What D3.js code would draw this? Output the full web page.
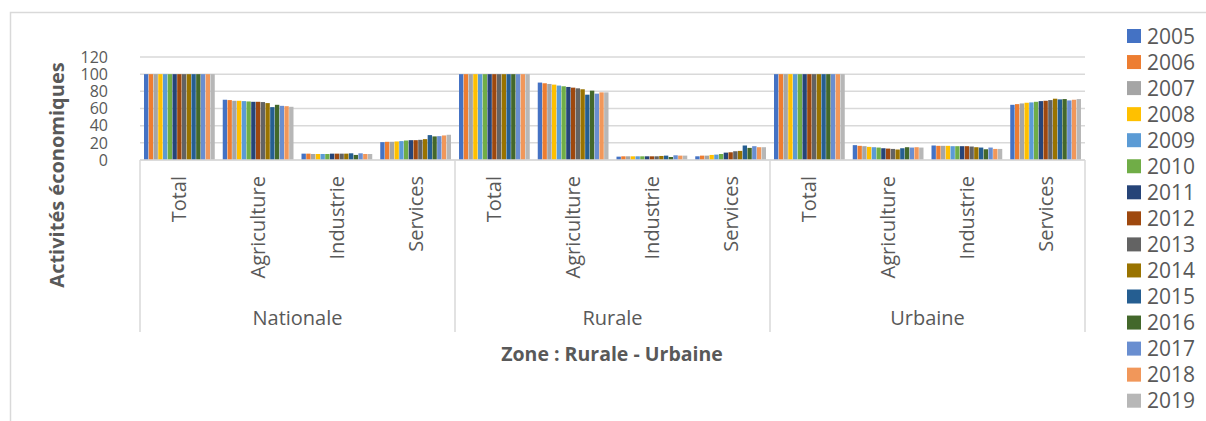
<!DOCTYPE html>
<html lang="fr">
<head>
    <meta charset="UTF-8">
    <title>Activités économiques</title>
    <style>
        body { margin: 0; background: #fff; }
        svg { display: block; }
        text { font-family: "Open Sans", sans-serif; fill: #595959; }
    </style>
</head>
<body>
<script src="https://cdnjs.cloudflare.com/ajax/libs/d3/7.8.5/d3.min.js"></script>
<script>

    let width = 1206
    let height = 421

    const years = ["2005", "2006", "2007", "2008", "2009", "2010", "2011", "2012", "2013", "2014", "2015", "2016", "2017", "2018", "2019"]
    const zones = ["Nationale", "Rurale", "Urbaine"]
    const sectors = ["Total", "Agriculture", "Industrie", "Services"]
    const yTicks = [0, 20, 40, 60, 80, 100, 120]

    const colors = ["#4472C4", "#ED7D31", "#A5A5A5", "#FFC000", "#5B9BD5", "#70AD47", "#264478", "#9E480E",
                    "#636363", "#997300", "#255E91", "#43682B", "#698ED0", "#F1975A", "#B7B7B7"]

    // values, one per year 2005..2019
    const nationaleTotal       = [100, 100, 100, 100, 100, 100, 100, 100, 100, 100, 100, 100, 100, 100, 100]
    const nationaleAgriculture = [70.2, 69.8, 69, 69, 68.6, 68.2, 67.8, 67.8, 67.5, 66.3, 61.6, 64.3, 63.1, 62.7, 62]
    const nationaleIndustrie   = [7.4, 7.4, 7, 7, 7, 7, 7.4, 7.4, 7.4, 7.4, 7.8, 5.9, 7.8, 7, 7]
    const nationaleServices    = [20.8, 21.2, 21.2, 21.6, 22, 22.7, 23.1, 23.1, 23.5, 24.3, 29, 27.5, 27.8, 28.6, 29.4]

    const ruraleTotal       = [100, 100, 100, 100, 100, 100, 100, 100, 100, 100, 100, 100, 100, 100, 100]
    const ruraleAgriculture = [90.2, 89.4, 88.6, 87.8, 86.7, 85.9, 85.1, 84.3, 83.5, 82.4, 76.1, 80.8, 77.3, 78.8, 78.8]
    const ruraleIndustrie   = [3.9, 4.3, 4.3, 4.3, 4.3, 4.3, 4.3, 4.3, 4.3, 4.7, 5.1, 3.5, 5.5, 5.1, 5.1]
    const ruraleServices    = [4.3, 5.1, 5.1, 5.9, 6.3, 7, 8.6, 9, 10.2, 10.6, 16.9, 14.1, 16.1, 14.9, 14.9]

    const urbaineTotal       = [100, 100, 100, 100, 100, 100, 100, 100, 100, 100, 100, 100, 100, 100, 100]
    const urbaineAgriculture = [17.3, 16.5, 16.1, 15.3, 14.9, 14.5, 13.7, 13.3, 12.9, 12.2, 13.7, 14.9, 14.5, 14.9, 14.5]
    const urbaineIndustrie   = [16.9, 16.5, 16.5, 16.5, 16.1, 16.1, 16.1, 16.1, 15.7, 14.9, 14.5, 12.5, 14.5, 12.9, 12.9]
    const urbaineServices    = [64.3, 65.1, 65.9, 66.7, 67.1, 67.8, 68.6, 69, 69.8, 71.4, 70.6, 71, 69.4, 70.2, 71]

    let series = [
        nationaleTotal, nationaleAgriculture, nationaleIndustrie, nationaleServices,
        ruraleTotal, ruraleAgriculture, ruraleIndustrie, ruraleServices,
        urbaineTotal, urbaineAgriculture, urbaineIndustrie, urbaineServices
    ]

    let cats = []
    zones.forEach(z => sectors.forEach(s => cats.push({zone: z, sector: s, key: z + "|" + s})))
    cats.forEach((c, i) => c.values = series[i])

    let plotLeft = 140, plotRight = 1085, plotTop = 57, plotBottom = 160

    let svg = d3.select("body").append("svg")
        .attr("width", width)
        .attr("height", height)

    // chart border
    svg.append("rect")
        .attr("x", 10.5).attr("y", 12.5)
        .attr("width", 1220).attr("height", 440)
        .attr("fill", "none")
        .attr("stroke", "#d9d9d9")
        .attr("stroke-width", 1.5)

    let y = d3.scaleLinear().domain([0, 120]).range([plotBottom, plotTop])
    let x0 = d3.scaleBand().domain(cats.map(c => c.key)).range([plotLeft, plotRight])
    let x1 = d3.scaleBand().domain(years).range([4, x0.bandwidth() - 4]).paddingInner(0.08)
    let xZone = d3.scaleBand().domain(zones).range([plotLeft, plotRight])
    let color = d3.scaleOrdinal().domain(years).range(colors)

    // gridlines
    svg.append("g")
        .selectAll("line")
        .data(yTicks)
        .join("line")
            .attr("x1", plotLeft).attr("x2", plotRight)
            .attr("y1", d => y(d)).attr("y2", d => y(d))
            .attr("stroke", "#d9d9d9")
            .attr("stroke-width", 1.5)

    // y tick labels
    svg.append("g")
        .selectAll("text")
        .data(yTicks)
        .join("text")
            .attr("x", 108)
            .attr("y", d => y(d))
            .attr("dy", "0.36em")
            .attr("text-anchor", "end")
            .style("font-size", "16px")
            .text(d => d)

    // bars
    let groups = svg.append("g")
        .selectAll("g")
        .data(cats)
        .join("g")
            .attr("transform", d => `translate(${x0(d.key)},0)`)

    groups.selectAll("rect")
        .data(d => d.values.map((v, i) => ({year: years[i], value: v})))
        .join("rect")
            .attr("x", d => x1(d.year))
            .attr("width", x1.bandwidth())
            .attr("y", d => y(d.value))
            .attr("height", d => y(0) - y(d.value))
            .attr("fill", d => color(d.year))

    // category axis tree
    let axisG = svg.append("g")
    axisG.append("line")
        .attr("x1", plotLeft).attr("x2", plotRight)
        .attr("y1", plotBottom).attr("y2", plotBottom)
        .attr("stroke", "#d9d9d9").attr("stroke-width", 1.5)
    let dividers = zones.map(z => xZone(z)).concat([plotRight])
    axisG.selectAll("line.div")
        .data(dividers)
        .join("line")
            .attr("class", "div")
            .attr("x1", d => d).attr("x2", d => d)
            .attr("y1", plotBottom).attr("y2", 332)
            .attr("stroke", "#d9d9d9").attr("stroke-width", 1.5)

    axisG.selectAll("text.sector")
        .data(cats)
        .join("text")
            .attr("class", "sector")
            .attr("transform", d => `translate(${x0(d.key) + x0.bandwidth() / 2 + 7},176) rotate(-90)`)
            .attr("text-anchor", "end")
            .style("font-size", "20px")
            .text(d => d.sector)

    axisG.selectAll("text.zone")
        .data(zones)
        .join("text")
            .attr("class", "zone")
            .attr("x", d => xZone(d) + xZone.bandwidth() / 2)
            .attr("y", 325)
            .attr("text-anchor", "middle")
            .style("font-size", "20px")
            .text(d => d)

    // axis titles
    svg.append("text")
        .attr("x", 612)
        .attr("y", 361)
        .attr("text-anchor", "middle")
        .style("font-size", "19.5px")
        .style("font-weight", "bold")
        .text("Zone : Rurale - Urbaine")

    svg.append("text")
        .attr("transform", "translate(64,175) rotate(-90)")
        .attr("text-anchor", "middle")
        .style("font-size", "20px")
        .style("font-weight", "bold")
        .text("Activités économiques")

    // legend
    let legend = svg.append("g")
        .selectAll("g")
        .data(years)
        .join("g")
            .attr("transform", (d, i) => `translate(1127,${36 + i * 26.05})`)
    legend.append("rect")
        .attr("x", 0).attr("y", -7)
        .attr("width", 14).attr("height", 14)
        .attr("fill", d => color(d))
    legend.append("text")
        .attr("x", 20)
        .attr("dy", "0.36em")
        .style("font-size", "21px")
        .text(d => d)

</script>
</body>
</html>
